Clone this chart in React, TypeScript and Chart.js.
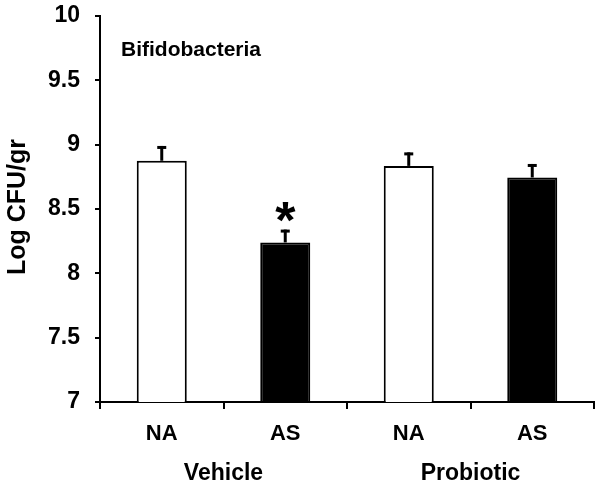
import React, { useEffect, useRef } from "react";
import { Chart, registerables } from "chart.js";

Chart.register(...registerables);

const categories = ["NA", "AS", "NA", "AS"];
const groups = ["Vehicle", "Probiotic"];
const means = [8.875, 8.24, 8.835, 8.745];
const errors = [0.115, 0.1, 0.105, 0.105];
const significance = ["", "*", "", ""];
const fillColors = ["#ffffff", "#000000", "#ffffff", "#000000"];
const yTickValues = [7, 7.5, 8, 8.5, 9, 9.5, 10];
const yTickLabels = ["7", "7.5", "8", "8.5", "9", "9.5", "10"];
const yTitle = "Log CFU/gr";
const panelTitle = "Bifidobacteria";

const FONT = "'Liberation Sans', Arial, sans-serif";

const overlayPlugin = {
  id: "overlay",
  afterDatasetsDraw(chart: any) {
    const ctx = chart.ctx;
    const meta = chart.getDatasetMeta(0);
    const yScale = chart.scales.y;
    const xScale = chart.scales.x;
    ctx.save();
    ctx.fillStyle = "#000";
    ctx.strokeStyle = "#000";
    meta.data.forEach((el: any, i: number) => {
      const x = el.x;
      const yBar = el.y;
      const yTop = yScale.getPixelForValue(means[i] + errors[i]);
      ctx.lineWidth = 3;
      ctx.beginPath();
      ctx.moveTo(x, yBar);
      ctx.lineTo(x, yTop);
      ctx.stroke();
      ctx.fillRect(x - 4.5, yTop, 9, 3);
      if (significance[i]) {
        ctx.font = `bold 52px ${FONT}`;
        ctx.textAlign = "center";
        ctx.textBaseline = "alphabetic";
        const m = ctx.measureText(significance[i]);
        const asc = m.actualBoundingBoxAscent;
        const desc = m.actualBoundingBoxDescent;
        const cy = yTop - 18;
        ctx.fillText(significance[i], x, cy + (asc - desc) / 2);
      }
    });
    // group labels
    ctx.font = `bold 23px ${FONT}`;
    ctx.textAlign = "center";
    ctx.textBaseline = "middle";
    groups.forEach((g, gi) => {
      const x0 = xScale.getPixelForValue(gi * 2);
      const x1 = xScale.getPixelForValue(gi * 2 + 1);
      ctx.fillText(g, (x0 + x1) / 2, 474);
    });
    // panel title
    ctx.font = `bold 21px ${FONT}`;
    ctx.textAlign = "left";
    ctx.textBaseline = "alphabetic";
    ctx.fillText(panelTitle, 121, 56);
    // y title
    ctx.translate(25, 207);
    ctx.rotate(-Math.PI / 2);
    ctx.font = `bold 25px ${FONT}`;
    ctx.textAlign = "center";
    ctx.textBaseline = "alphabetic";
    ctx.fillText(yTitle, 0, 0);
    ctx.restore();
  },
};

export default function App() {
  const ref = useRef<HTMLCanvasElement>(null);
  useEffect(() => {
    if (!ref.current) return;
    const chart = new Chart(ref.current, {
      type: "bar",
      data: {
        labels: categories,
        datasets: [
          {
            data: means,
            backgroundColor: fillColors,
            borderColor: "#000",
            borderWidth: 2,
            barPercentage: 0.405,
            categoryPercentage: 1,
          },
        ],
      },
      options: {
        responsive: false,
        animation: false,
        layout: { padding: { top: 16, right: 8, left: 0, bottom: 0 } },
        plugins: { legend: { display: false }, tooltip: { enabled: false }, title: { display: false } },
        scales: {
          x: {
            grid: { drawOnChartArea: false, drawTicks: true, tickLength: 7, color: "#000", lineWidth: 2 },
            border: { display: true, color: "#000", width: 2 },
            ticks: { color: "#000", font: { family: FONT, size: 22, weight: "bold" }, padding: 12 },
            afterFit: (s: any) => {
              s.height = 86;
              s.paddingLeft = 0;
              s.paddingRight = 0;
            },
          },
          y: {
            min: 7,
            max: 10,
            grid: { drawOnChartArea: false, drawTicks: true, tickLength: 5, color: "#000", lineWidth: 2 },
            border: { display: true, color: "#000", width: 2 },
            ticks: {
              color: "#000",
              font: { family: FONT, size: 23, weight: "bold" },
              padding: 15,
              callback: (v: any) => {
                const idx = yTickValues.indexOf(Number(v));
                return idx >= 0 ? yTickLabels[idx] : "";
              },
            },
            afterBuildTicks: (s: any) => {
              s.ticks = yTickValues.map((v) => ({ value: v }));
            },
            afterFit: (s: any) => {
              s.width = 100;
              s.paddingTop = 0;
              s.paddingBottom = 0;
            },
          },
        },
      },
      plugins: [overlayPlugin],
    });
    return () => chart.destroy();
  }, []);
  return (
    <div style={{ position: "absolute", left: 0, top: 0, width: 602, height: 488, background: "#fff" }}>
      <canvas ref={ref} width={602} height={488} />
    </div>
  );
}
